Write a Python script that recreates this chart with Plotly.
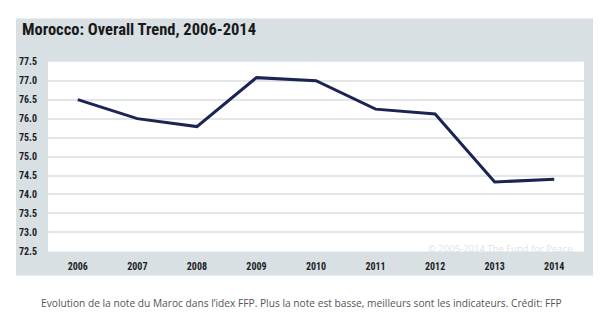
import plotly.graph_objects as go

years = ["2006", "2007", "2008", "2009", "2010", "2011", "2012", "2013", "2014"]
scores = [76.5, 76.0, 75.79, 77.08, 77.0, 76.25, 76.12, 74.33, 74.4]
y_ticks = [72.5, 73.0, 73.5, 74.0, 74.5, 75.0, 75.5, 76.0, 76.5, 77.0, 77.5]
y_tick_labels = [f"{v:.1f}" for v in y_ticks]

title_text = "Morocco: Overall Trend, 2006-2014"
caption_text = ("Evolution de la note du Maroc dans l\u2019idex FFP. Plus la note est basse, "
                "meilleurs sont les indicateurs. Crédit: FFP")
watermark_text = "© 2005-2014 The Fund for Peace"

W, H = 600, 326
PANEL = "#d9e0e3"
NAVY = "#1b2452"
COND = "Roboto Condensed, DejaVu Sans Condensed, sans-serif"


def px_x(x):
    return x / W


def px_y(y):
    return 1 - y / H


fig = go.Figure()
fig.add_trace(go.Scatter(
    x=years, y=scores, mode="lines",
    line=dict(color=NAVY, width=3),
    hoverinfo="skip", showlegend=False,
))

fig.update_layout(
    width=W, height=H,
    margin=dict(l=0, r=0, t=0, b=0),
    paper_bgcolor="white",
    plot_bgcolor="white",
    xaxis=dict(
        type="category", range=[-0.5, 8.5],
        domain=[px_x(48), px_x(584)],
        showgrid=False, zeroline=False, showline=False,
        ticks="", ticklabelstandoff=8,
        tickfont=dict(family=COND, size=10, color="#1e1e1e", weight="bold"),
        fixedrange=True,
    ),
    yaxis=dict(
        range=[72.5, 77.5],
        domain=[px_y(255), px_y(58.7)],
        tickvals=y_ticks, ticktext=y_tick_labels,
        showgrid=True, gridcolor="#e3e6e7", gridwidth=1.5,
        zeroline=False, showline=False,
        ticks="", ticklabelstandoff=10,
        tickfont=dict(family=COND, size=10, color="#1e1e1e", weight="bold"),
        fixedrange=True,
    ),
    shapes=[
        dict(type="rect", xref="paper", yref="paper", layer="below",
             x0=px_x(16), x1=px_x(593), y0=px_y(280), y1=px_y(14),
             fillcolor=PANEL, line=dict(width=0)),
        dict(type="rect", xref="paper", yref="paper", layer="below",
             x0=px_x(48), x1=px_x(584), y0=px_y(255), y1=px_y(58.7),
             fillcolor="white", line=dict(width=0)),
    ],
    annotations=[
        dict(text=title_text, xref="paper", yref="paper",
             x=px_x(20), y=px_y(25), xanchor="left", yanchor="middle",
             showarrow=False,
             font=dict(family=COND, size=16.5, color="#1a1a1a", weight="bold")),
        dict(text=watermark_text, xref="paper", yref="paper",
             x=px_x(575), y=px_y(252), xanchor="right", yanchor="middle",
             showarrow=False,
             font=dict(family="Open Sans", size=9.5, color="#e2e2e2")),
        dict(text=caption_text, xref="paper", yref="paper",
             x=px_x(39), y=px_y(308), xanchor="left", yanchor="middle",
             showarrow=False,
             font=dict(family="Open Sans", size=10.2, color="#555555")),
    ],
)

fig.write_html("out.html")
